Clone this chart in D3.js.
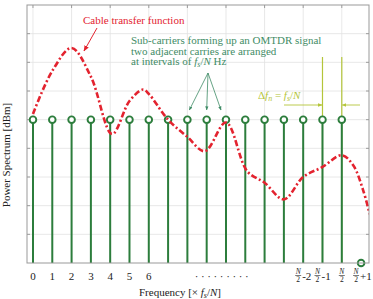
<!DOCTYPE html>
<html>
<head>
  <meta charset="utf-8" />
  <script src="https://d3js.org/d3.v7.min.js"></script>
  <style>
    * { margin: 0; padding: 0; }
    body { background: #fff; }
    svg { display: block; font-family: "Liberation Serif", "DejaVu Serif", serif; }
  </style>
</head>
<body>
  <svg width="373" height="299"></svg>
  <script>
    // carriers (index along frequency axis) and their stem height
    const carriers = [0, 1, 2, 3, 4, 5, 6, 7, 8, 9, 10, 11, 12, 13, 14, 15, 16, 17];
    const carrierPower = [5, 5, 5, 5, 5, 5, 5, 5, 5, 5, 5, 5, 5, 5, 5, 5, 5, 0];

    // cable transfer function
    const cableFreq = [0, 1, 2, 3, 4.1, 5, 5.7, 6, 7, 8, 8.9, 10, 11.1, 12, 13, 14, 15, 16, 16.6, 17.1, 17.45];
    const cableDb   = [5.2, 6.7, 7.5, 6.5, 4.5, 5.65, 6.05, 5.9, 5.0, 4.4, 3.9, 4.9, 3.2, 2.8, 2.22, 3.0, 3.35, 3.76, 3.4, 2.55, 1.7];

    const numberTicks = [0, 1, 2, 3, 4, 5, 6];
    const fracTicks = [{ i: 14, s: "-2" }, { i: 15, s: "-1" }, { i: 16, s: "" }, { i: 17, s: "+1" }];
    const gridX = [0, 2, 4, 6, 8, 10, 12, 14, 16];
    const gridY = [1, 2, 3, 4, 5, 6, 7, 8];

    const svg = d3.select("svg");
    const pLeft = 27, pRight = 369, pTop = 5, pBottom = 263;

    const x = d3.scaleLinear().domain([-0.31, 17.41]).range([pLeft, pRight]);
    const y = d3.scaleLinear().domain([0, 9]).range([pBottom, pTop]);

    const green = "#2c7d3c";
    const yellow = "#b4c53a";
    const teal = "#3f8c66";
    const red = "#e3232f";

    svg.append("defs").html(`
      <marker id="arrRed" viewBox="0 0 10 10" refX="9" refY="5" markerWidth="6" markerHeight="6" orient="auto"><path d="M0,1 L10,5 L0,9 z" fill="${red}"/></marker>
      <marker id="arrTeal" viewBox="0 0 10 10" refX="9" refY="5" markerWidth="5" markerHeight="5" orient="auto"><path d="M0,1 L10,5 L0,9 z" fill="${teal}"/></marker>
      <marker id="arrYel" viewBox="0 0 10 10" refX="9" refY="5" markerWidth="5" markerHeight="5" orient="auto"><path d="M0,1 L10,5 L0,9 z" fill="${yellow}"/></marker>
      <clipPath id="plot"><rect x="${pLeft}" y="${pTop}" width="${pRight - pLeft}" height="${pBottom - pTop}"/></clipPath>`);

    // grid
    svg.append("g").selectAll("line").data(gridY).join("line")
      .attr("x1", pLeft).attr("x2", pRight)
      .attr("y1", d => y(d)).attr("y2", d => y(d))
      .attr("stroke", "#e2e2e2").attr("stroke-width", 0.8);
    svg.append("g").selectAll("line").data(gridX).join("line")
      .attr("x1", d => x(d)).attr("x2", d => x(d))
      .attr("y1", pTop).attr("y2", pBottom)
      .attr("stroke", "#e2e2e2").attr("stroke-width", 0.8);

    // tick marks on both sides
    svg.append("g").selectAll("path").data(gridY).join("path")
      .attr("d", d => `M${pLeft},${y(d)}h3M${pRight},${y(d)}h-3`)
      .attr("stroke", "#888").attr("stroke-width", 0.8);
    svg.append("g").selectAll("path").data(gridX).join("path")
      .attr("d", d => `M${x(d)},${pTop}v3M${x(d)},${pBottom}v-3`)
      .attr("stroke", "#888").attr("stroke-width", 0.8);

    // delta f guides (yellow-green)
    svg.append("g").selectAll("line").data([15, 16]).join("line")
      .attr("x1", d => x(d)).attr("x2", d => x(d))
      .attr("y1", 57).attr("y2", pBottom)
      .attr("stroke", yellow).attr("stroke-width", 1.2);

    // stems
    const stems = svg.append("g");
    stems.selectAll("line").data(carriers).join("line")
      .attr("x1", d => x(d)).attr("x2", d => x(d))
      .attr("y1", y(0)).attr("y2", (d, i) => y(carrierPower[i]))
      .attr("stroke", green).attr("stroke-width", 2);

    // cable transfer function
    const line = d3.line()
      .x((d, i) => x(cableFreq[i]))
      .y(d => y(d))
      .curve(d3.curveCatmullRom.alpha(0.5));
    svg.append("path")
      .attr("d", line(cableDb))
      .attr("clip-path", "url(#plot)")
      .attr("fill", "none").attr("stroke", red)
      .attr("stroke-width", 2.6)
      .attr("stroke-dasharray", "6,2.5,2,2.5");

    // stem heads
    stems.selectAll("circle").data(carriers).join("circle")
      .attr("cx", d => x(d))
      .attr("cy", (d, i) => y(carrierPower[i]))
      .attr("r", 3.3)
      .attr("fill", "#fff").attr("stroke", green).attr("stroke-width", 1.9);

    // frame
    svg.append("rect")
      .attr("x", pLeft).attr("y", pTop)
      .attr("width", pRight - pLeft).attr("height", pBottom - pTop)
      .attr("fill", "none").attr("stroke", "#999").attr("stroke-width", 1);

    // x tick labels
    svg.append("g").selectAll("text").data(numberTicks).join("text")
      .attr("x", d => x(d)).attr("y", 280)
      .attr("text-anchor", "middle").attr("font-size", 11).attr("fill", "#222")
      .text(d => d);
    svg.append("text").attr("x", 223).attr("y", 280)
      .attr("text-anchor", "middle").attr("font-size", 11).attr("fill", "#222")
      .attr("letter-spacing", 2.6)
      .text("·········");

    const frac = svg.append("g").selectAll("g").data(fracTicks).join("g")
      .attr("transform", d => `translate(${x(d.i) - (d.s ? 5 : 0)},0)`);
    frac.append("text").attr("x", 0).attr("y", 274).attr("text-anchor", "middle")
      .attr("font-size", 7.5).attr("font-style", "italic").attr("fill", "#222").text("N");
    frac.append("line").attr("x1", -3).attr("x2", 3).attr("y1", 275.5).attr("y2", 275.5)
      .attr("stroke", "#222").attr("stroke-width", 0.6);
    frac.append("text").attr("x", 0).attr("y", 282).attr("text-anchor", "middle")
      .attr("font-size", 7.5).attr("fill", "#222").text("2");
    frac.append("text").attr("x", 4).attr("y", 280)
      .attr("font-size", 11).attr("fill", "#222").text(d => d.s);

    // axis titles
    const xt = svg.append("text").attr("x", 180).attr("y", 296)
      .attr("text-anchor", "middle").attr("font-size", 11).attr("fill", "#222");
    xt.append("tspan").text("Frequency [× ");
    xt.append("tspan").attr("font-style", "italic").text("f");
    xt.append("tspan").attr("font-style", "italic").attr("font-size", 8).attr("dy", 2).text("s");
    xt.append("tspan").attr("dy", -2).text("/");
    xt.append("tspan").attr("font-style", "italic").text("N");
    xt.append("tspan").text("]");

    svg.append("text")
      .attr("transform", "translate(10,155) rotate(-90)")
      .attr("text-anchor", "middle").attr("font-size", 11).attr("fill", "#222")
      .text("Power Spectrum [dBm]");

    // red annotation
    svg.append("text").attr("x", 83).attr("y", 24)
      .attr("font-size", 11).attr("fill", red).text("Cable transfer function");
    svg.append("line")
      .attr("x1", 97).attr("y1", 28).attr("x2", 84).attr("y2", 51)
      .attr("stroke", red).attr("stroke-width", 1).attr("marker-end", "url(#arrRed)");

    // teal annotation
    const noteLines = ["Sub-carriers forming up an OMTDR signal", "two adjacent carries are arranged"];
    svg.append("g").selectAll("text").data(noteLines).join("text")
      .attr("x", 131).attr("y", (d, i) => 44 + i * 10.5)
      .attr("font-size", 11).attr("fill", teal).text(d => d);
    const n3 = svg.append("text").attr("x", 131).attr("y", 65)
      .attr("font-size", 11).attr("fill", teal);
    n3.append("tspan").text("at intervals of ");
    n3.append("tspan").attr("font-style", "italic").text("f");
    n3.append("tspan").attr("font-style", "italic").attr("font-size", 8).attr("dy", 2).text("s");
    n3.append("tspan").attr("dy", -2).text("/");
    n3.append("tspan").attr("font-style", "italic").text("N");
    n3.append("tspan").text(" Hz");
    svg.append("g").selectAll("line").data([x(8) + 2, x(9), x(10) - 5]).join("line")
      .attr("x1", 208).attr("y1", 73).attr("x2", d => d).attr("y2", 110)
      .attr("stroke", teal).attr("stroke-width", 0.8).attr("marker-end", "url(#arrTeal)");

    // delta f annotation
    const df = svg.append("text").attr("x", 258).attr("y", 99)
      .attr("font-size", 11).attr("fill", yellow);
    df.append("tspan").text("Δ");
    df.append("tspan").attr("font-style", "italic").text("f");
    df.append("tspan").attr("font-style", "italic").attr("font-size", 8).attr("dy", 2).text("n");
    df.append("tspan").attr("dy", -2).text(" = ");
    df.append("tspan").attr("font-style", "italic").text("f");
    df.append("tspan").attr("font-style", "italic").attr("font-size", 8).attr("dy", 2).text("s");
    df.append("tspan").attr("dy", -2).text("/");
    df.append("tspan").attr("font-style", "italic").text("N");
    svg.append("line").attr("x1", 284).attr("y1", 105).attr("x2", x(15) - 0.5).attr("y2", 105)
      .attr("stroke", yellow).attr("stroke-width", 0.9).attr("marker-end", "url(#arrYel)");
    svg.append("line").attr("x1", 360).attr("y1", 105).attr("x2", x(16) + 0.5).attr("y2", 105)
      .attr("stroke", yellow).attr("stroke-width", 0.9).attr("marker-end", "url(#arrYel)");
  </script>
</body>
</html>
